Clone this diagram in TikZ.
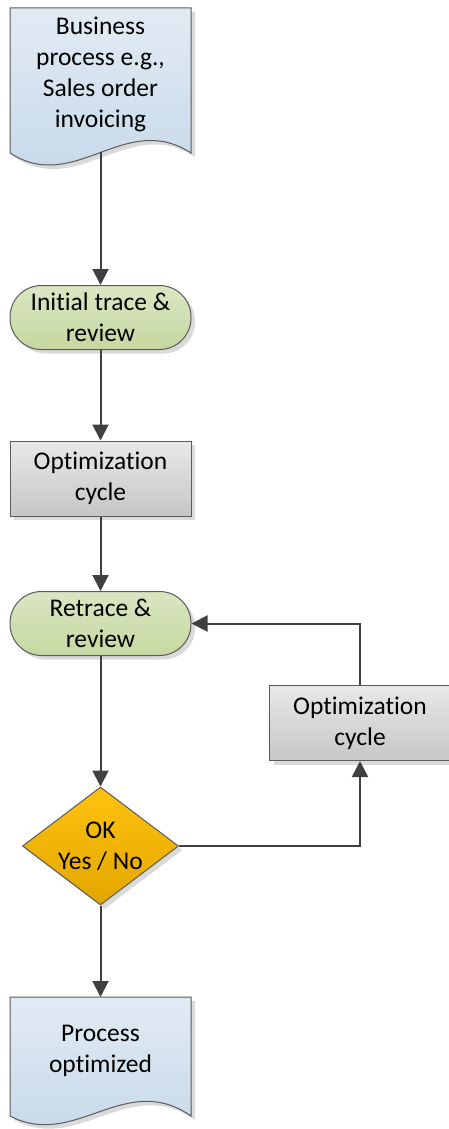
\documentclass[tikz,border=0pt]{standalone}
\usepackage{fontspec}
\setmainfont[Ligatures=NoCommon]{Carlito}
\usetikzlibrary{arrows.meta,shapes.geometric,shadows}

\definecolor{linegray}{HTML}{5A5A5A}
\definecolor{flowgray}{HTML}{404040}
\definecolor{shadowgray}{HTML}{DADADA}
\definecolor{bluehi}{HTML}{E2EBF4}
\definecolor{bluelo}{HTML}{C4D7E9}
\definecolor{greenhi}{HTML}{DAE6C2}
\definecolor{greenlo}{HTML}{C6D8A0}
\definecolor{grayhi}{HTML}{E8E8E8}
\definecolor{graylo}{HTML}{C6C6C6}
\definecolor{goldhi}{HTML}{FFC20F}
\definecolor{goldlo}{HTML}{E2A700}

\newcommand{\flowfont}{\fontsize{25.5}{31}\selectfont}

\tikzset{
  base/.style={draw=linegray, line width=1pt, align=center, font=\flowfont, inner sep=0pt,
    drop shadow={shadow xshift=4pt, shadow yshift=-4pt, fill=shadowgray, opacity=1}},
  stepbox/.style={base, rectangle, minimum width=181pt, minimum height=75pt,
    top color=grayhi, bottom color=graylo},
  pill/.style={base, rectangle, rounded corners=31.5pt, minimum width=181pt, minimum height=64pt,
    top color=greenhi, bottom color=greenlo},
  decision/.style={base, diamond, minimum width=156pt, minimum height=118pt,
    top color=goldhi, bottom color=goldlo},
  doctext/.style={align=center, font=\flowfont, inner sep=0pt},
  flow/.style={draw=flowgray, line width=2pt, -{Triangle[length=16pt,width=16pt]}}
}

\begin{document}
\begin{tikzpicture}[x=1pt,y=-1pt]
\useasboundingbox (0,0) rectangle (449,1129);

% start document with wavy bottom
\fill[shadowgray] (14,12) -- (195,12) -- (195,157) .. controls (129,114) and (79,199) .. (14,157) -- cycle;
\shade[top color=bluehi, bottom color=bluelo, draw=linegray, line width=1pt]
  (10,8) -- (191,8) -- (191,153) .. controls (125,110) and (75,195) .. (10,153) -- cycle;
\node[doctext] (biz) at (100.5,74.5) {Business\\process e.g.,\\Sales order\\invoicing};
\coordinate (biz-out) at (100.5,152);

% main chain
\node[pill] (init) at (100.5,317.5) {Initial trace \&\\review};
\node[stepbox] (opt) at (100.5,478.5) {Optimization\\cycle};
\node[pill] (retr) at (100.5,623.5) {Retrace \&\\review};
\node[decision] (ok) at (100.5,846) {};
\node[doctext] at (ok) {OK\\Yes / No};
\node[stepbox] (loop) at (360,723) {Optimization\\cycle};

% end document with wavy bottom
\fill[shadowgray] (14,1001) -- (195,1001) -- (195,1120) .. controls (129,1074) and (79,1154) .. (14,1120) -- cycle;
\shade[top color=bluehi, bottom color=bluelo, draw=linegray, line width=1pt]
  (10,997) -- (191,997) -- (191,1116) .. controls (125,1070) and (75,1150) .. (10,1116) -- cycle;
\node[doctext] (done) at (100.5,1051) {Process\\optimized};
\coordinate (done-in) at (100.5,997);

% connectors
\draw[flow] (biz-out) -- (init);
\draw[flow] (init) -- (opt);
\draw[flow] (opt) -- (retr);
\draw[flow] (retr) -- (ok);
\draw[flow] (ok.east) -| (loop.south);
\draw[flow] (loop.north) |- (retr.east);
\draw[flow] (ok.south) -- (done-in);
\end{tikzpicture}
\end{document}
